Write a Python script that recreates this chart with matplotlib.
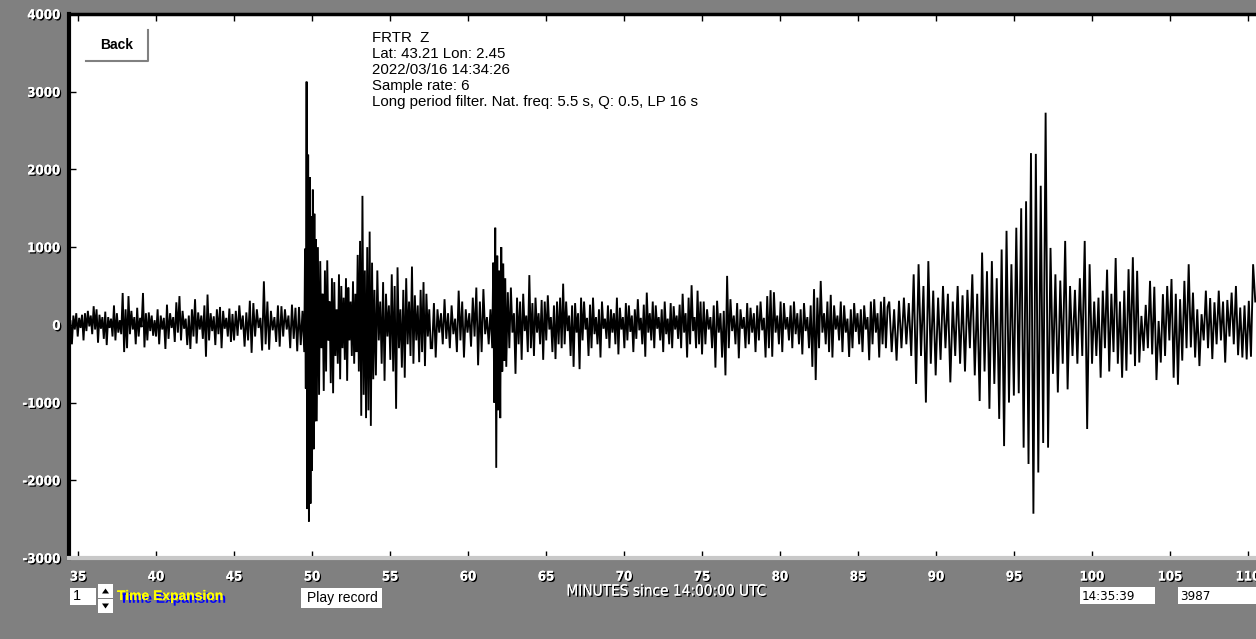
import numpy as np
import matplotlib
matplotlib.use("Agg")
import matplotlib.pyplot as plt
import matplotlib.patheffects as pe
from matplotlib.patches import Rectangle, Polygon

W, H = 1256, 639

# ── Station header ────────────────────────────────────────
info_lines = [
    "FRTR  Z",
    "Lat: 43.21 Lon: 2.45",
    "2022/03/16 14:34:26",
    "Sample rate: 6",
    "Long period filter. Nat. freq: 5.5 s, Q: 0.5, LP 16 s",
]

# ── Trace, read off the picture as alternating peaks (counts) ──
# segment limits in minutes since 14:00:00 UTC
seg_edges = [34.42, 40.0, 45.0, 49.5, 50.3, 53.0, 54.0, 57.7,
             61.55, 62.45, 66.0, 75.0, 87.0, 100.0, 110.6]

noise_35_40 = [-360, 60, -250, 120, -60, 150, -150, 90, -40, 130, -200, 150,
               -80, 180, -20, 120, -120, 240, -60, 200, -230, 130, -50, 100,
               -180, 170, -260, 100, -40, 80, -150, 250, -200, 150, -100, 60,
               -120, 410, -350, 200, -300, 370, -120, 180, -60, 100, -250, 220,
               -150, 90, -30, 410, -290, 150, -200, 160, -80, 120, -140, 60]
noise_40_45 = [-150, 200, -250, 120, -60, 90, -310, 260, -180, 150, -40, 100,
               -220, 290, -100, 370, -200, 180, -50, 80, -260, 120, -310, 200,
               -150, 330, -240, 160, -60, 120, -180, 250, -410, 390, -200, 150,
               -80, 110, -260, 200, -120, 230, -300, 180, -50, 90, -150, 210,
               -220, 140]
noise_45_49 = [-200, 180, -140, 250, -60, 120, -280, 160, -200, 310, -360, 280,
               -150, 200, -40, 90, -330, 560, -250, 300, -320, 180, -70, 100,
               -220, 250, -280, 240, -150, 200, -60, 120, -300, 260, -180, 220,
               -340, 230, -260, 180]
p_onset = [-350, 980, -820, 3130, -2370, 2190, -2530, 1900, -2300, 1400, -1880,
           1740, -1600, 1430, -1240, 1100]
p_coda = [-1240, 1000, -900, 820, -300, 400, -850, 700, -600, 830, -200, 300,
          -750, 600, -880, 550, -400, 200, -500, 650, -700, 500, -300, 350,
          -450, 600, -720, 480, -200, 300, -400, 560, -500, 400, -350, 900]
pp_phase = [-600, 1080, -1170, 1660, -900, 700, -1200, 1000, -1100, 1200, -1300,
            800, -700]
coda_54_57 = [450, -650, 700, -200, 300, -500, 550, -720, 400, -150, 250, -450,
              650, -600, 500, -1080, 740, -300, 200, -550, 450, -680, 600, -250,
              300, -400, 750, -500, 380, -200, 250, -480, 450, -350, 550, -530,
              400, -150, 200, -300]
coda_57_61 = [-300, 280, -420, 200, -100, 150, -250, 330, -180, 150, -300, 250,
              -120, 80, -350, 440, -200, 300, -420, 200, -100, 150, -280, 350,
              -150, 480, -520, 300, -350, 460, -120, 100, -250, 200]
s_phase = [-300, 800, -1000, 1250, -1840, 890, -1100, 700, -1200, 1000, -600,
           790, -460, 600]
coda_62_66 = [-540, 420, -300, 480, -100, 150, -630, 350, -250, 300, -450, 400,
              -80, 120, -350, 640, -300, 280, -400, 350, -100, 150, -250, 320,
              -450, 300, -200, 380, -60, 100, -350, 250, -440, 300, -250, 350]
coda_66_75 = [-300, 530, -250, 300, -80, 120, -400, 250, -540, 280, -100, 150,
              -570, 350, -200, 300, -60, 90, -400, 260, -300, 350, -120, 100,
              -250, 200, -420, 300, -50, 80, -180, 250, -300, 200, -100, 150,
              -250, 350, -380, 220, -60, 100, -300, 280, -200, 250, -90, 120,
              -350, 200, -180, 330, -70, 90, -250, 260, -410, 415, -100, 150,
              -200, 300, -300, 250, -50, 100, -200, 200, -350, 300, -120, 80,
              -250, 280, -300, 240, -60, 120, -180, 260, -300, 400, -100, 150,
              -420, 350, -250, 510, -80, 100, -300, 440, -250, 300]
coda_75_87 = [-380, 300, -250, 200, -60, 100, -300, 250, -550, 310, -100, 150,
              -420, 180, -650, 630, -300, 330, -80, 120, -250, 280, -430, 200,
              -50, 100, -300, 280, -250, 220, -100, 150, -350, 250, -200, 300,
              -70, 90, -420, 370, -300, 446, -410, 420, -100, 120, -250, 300,
              -350, 280, -60, 100, -200, 250, -300, 300, -120, 150, -250, 200,
              -380, 280, -80, 100, -300, 250, -540, 460, -710, 350, -300, 565,
              -100, 150, -250, 300, -350, 386, -420, 250, -60, 120, -200, 300,
              -350, 250, -100, 80, -413, 200, -300, 280, -90, 150, -250, 200,
              -350, 250, -60, 100, -455, 300, -250, 330, -100, 150, -420, 300,
              -250, 360, -300, 230]
surface_87_100 = [300, -350, 200, -460, 310, -300, 350, -250, 280, -400,
                  650, -760, 780, -400, 500, -1000, 820,
                  -500, 440, -650, 350, -450, 500, -300, 400, -740, 300, -400,
                  500, -500, 380, -600, 450, -300, 650, -650, 400,
                  -980, 930, -600, 690, -1080, 820, -760, 600, -1210, 970, -1560,
                  1210, -1000, 780, -910, 1250, -880, 1500, -1580, 1590, -1790,
                  2210, -2430, 2200, -1900, 1790, -1520, 2730, -1580, 990, -630,
                  650, -870, 570, -500, 1080, -830, 500, -400, 450, -500, 600,
                  -400, 1080, -1340, 780]
tail_100_110 = [-500, 300, -400, 350, -680, 440, -300, 710, -600, 400, -350, 860,
                -500, 300, -680, 440, -590, 716, -380, 870, -530, 695, -485, 115,
                -335, 257, -300, 566, -380, 490, -710, 50, -485, 395, -400, 500,
                -200, 590, -680, 400, -770, 330, -460, 566, -300, 780, -290, 415,
                -420, 200, -530, 137, -200, 440, -300, 345, -440, 290, -250, 440,
                -200, 300, -485, 320, -150, 415, -250, 500, -390, 223, -420, 250,
                -445, 309, -410, 780, 300]

segments = [noise_35_40, noise_40_45, noise_45_49, p_onset, p_coda, pp_phase,
            coda_54_57, coda_57_61, s_phase, coda_62_66, coda_66_75, coda_75_87,
            surface_87_100, tail_100_110]

x_ticks = list(range(35, 111, 5))
y_ticks = list(range(-3000, 4001, 1000))

t_parts, v_parts = [], []
for (a, b), vals in zip(zip(seg_edges[:-1], seg_edges[1:]), segments):
    t_parts.append(np.linspace(a, b, len(vals), endpoint=False))
    v_parts.append(np.asarray(vals, dtype=float))
t = np.concatenate(t_parts)
v = np.concatenate(v_parts)


def fx(x):
    return x / W


def fy(y):
    return 1 - y / H


fig = plt.figure(figsize=(W / 100, H / 100), dpi=100, facecolor="#808080")
ax = fig.add_axes([fx(69), fy(558), fx(1256 - 69), (558 - 14) / H])
ax.set_facecolor("white")
ax.plot(t, v, color="black", lw=1.35, solid_joinstyle="miter")
ax.set_xlim(34.42, 110.51)
ax.set_ylim(-3000, 4000)

ax.spines["right"].set_visible(False)
ax.spines["top"].set_linewidth(2.5)
ax.spines["left"].set_linewidth(3)
ax.spines["bottom"].set_color("#c8c8c8")
ax.spines["bottom"].set_linewidth(3)

shadow = [pe.withSimplePatchShadow(offset=(1, -1), shadow_rgbFace="black", alpha=1.0),
          pe.Normal()]
lab_font = dict(family="DejaVu Sans", fontstretch="condensed", fontweight="bold",
                fontsize=9.5, color="white")

ax.set_xticks(x_ticks)
ax.set_xticklabels([str(x) for x in x_ticks], **lab_font)
ax.set_yticks(y_ticks)
ax.set_yticklabels([str(y) for y in y_ticks], **lab_font)
ax.tick_params(axis="x", direction="in", top=True, bottom=True, length=5,
               width=1, color="black", pad=9)
ax.tick_params(axis="y", direction="in", left=True, right=False, length=5,
               width=1, color="black", pad=6)
for lab in ax.get_xticklabels() + ax.get_yticklabels():
    lab.set_path_effects(shadow)

# header text
for i, line in enumerate(info_lines):
    fig.text(fx(372), fy(38 + 16 * i), line, ha="left", va="center",
             family="Liberation Sans", fontsize=10.8, color="black")

# Back button
fig.patches.append(Rectangle((fx(86), fy(61)), fx(62), 31 / H, transform=fig.transFigure,
                             facecolor="white", edgecolor="none"))
fig.lines.append(plt.Line2D([fx(86), fx(148), fx(148)], [fy(61), fy(61), fy(30)],
                            transform=fig.transFigure, color="#808080", lw=1.5))
fig.text(fx(117), fy(45), "Back", ha="center", va="center", family="Liberation Sans",
         fontsize=10, fontweight="bold", color="black")

# axis title
fig.text(fx(666), fy(591), "MINUTES since 14:00:00 UTC", ha="center", va="center",
         family="DejaVu Sans", fontstretch="condensed", fontsize=11, color="white",
         path_effects=shadow)


# bottom controls
def box(x0, y0, x1, y1, fc="white"):
    fig.patches.append(Rectangle((fx(x0), fy(y1)), fx(x1 - x0), (y1 - y0) / H,
                                 transform=fig.transFigure, facecolor=fc,
                                 edgecolor="none"))


box(70, 588, 96, 605)
fig.text(fx(73), fy(596.5), "1", ha="left", va="center", family="Liberation Sans",
         fontsize=10.5, color="black")
box(98, 584, 113, 598)
box(98, 599, 113, 613)
for ty, up in ((591, True), (606, False)):
    if up:
        pts = [(102, ty + 2.5), (109, ty + 2.5), (105.5, ty - 2.5)]
    else:
        pts = [(102, ty - 2.5), (109, ty - 2.5), (105.5, ty + 2.5)]
    fig.patches.append(Polygon([(fx(px), fy(py)) for px, py in pts],
                               transform=fig.transFigure, facecolor="black",
                               edgecolor="none"))
fig.text(fx(117), fy(596), "Time Expansion", ha="left", va="center",
         family="Liberation Sans", fontsize=10, fontweight="bold", color="yellow",
         path_effects=[pe.withSimplePatchShadow(offset=(2, -2), shadow_rgbFace="blue",
                                                alpha=1.0), pe.Normal()])

box(301, 588, 382, 608)
fig.text(fx(342), fy(598), "Play record", ha="center", va="center",
         family="Liberation Sans", fontsize=10, color="black")

box(1080, 587, 1155, 604)
fig.text(fx(1082), fy(596), "14:35:39", ha="left", va="center", family="DejaVu Sans",
         fontstretch="condensed", fontsize=9.5, color="black")
box(1178, 587, 1256, 604)
fig.text(fx(1180), fy(596), "3987", ha="left", va="center", family="DejaVu Sans",
         fontstretch="condensed", fontsize=9.5, color="black")

fig.savefig("out.png", dpi=100, facecolor=fig.get_facecolor())
